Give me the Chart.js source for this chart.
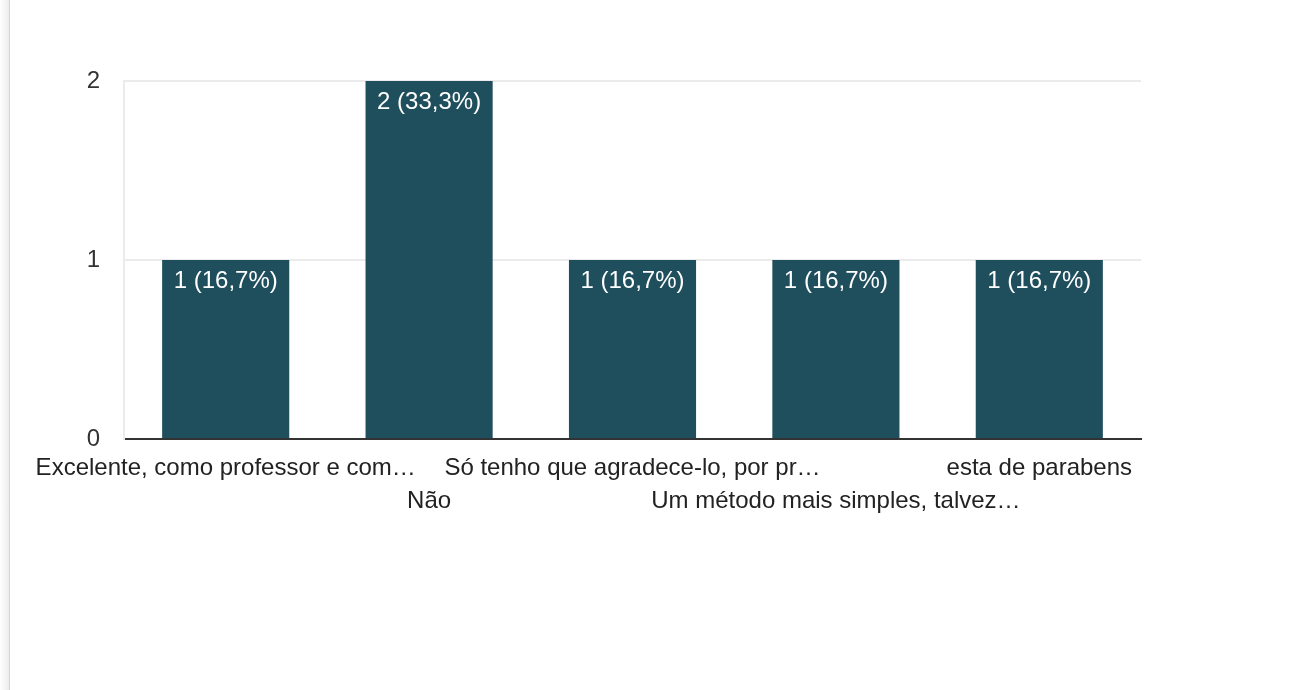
<!DOCTYPE html>
<html>
<head>
<meta charset="utf-8">
<script src="https://cdn.jsdelivr.net/npm/chart.js@4"></script>
<style>
  html, body { margin: 0; padding: 0; background: #fff; }
  #wrap { position: relative; width: 1289px; height: 690px; overflow: hidden; }
  #edge { position: absolute; left: 0; top: 0; width: 9px; height: 690px;
          background: linear-gradient(to right, #fff, #ececec); border-right: 1px solid #d6d6d6; }
  canvas { position: absolute; left: 0; top: 0; }
</style>
</head>
<body>
<div id="wrap">
  <div id="edge"></div>
  <canvas id="chart" width="1289" height="690"></canvas>
</div>
<script>
// Dữ liệu của biểu đồ
const categories = [
  "Excelente, como professor e com…",
  "Não",
  "Só tenho que agradece-lo, por pr…",
  "Um método mais simples, talvez…",
  "esta de parabens"
];
const counts = [1, 2, 1, 1, 1];
const yTicks = [0, 1, 2];

const total = counts.reduce((a, b) => a + b, 0);
const fontFamily = "Arial, 'Liberation Sans', sans-serif";

// Nhãn so le: hàng 1 và hàng 2
const staggered = categories.map((c, i) => i % 2 === 0 ? [c] : ["", c]);

// Plugin vẽ nhãn giá trị trong cột
const barLabels = {
  id: "barLabels",
  afterDatasetsDraw(chart) {
    const ctx = chart.ctx;
    const meta = chart.getDatasetMeta(0);
    ctx.save();
    ctx.fillStyle = "#fff";
    ctx.font = "24px " + fontFamily;
    ctx.textAlign = "center";
    ctx.textBaseline = "top";
    meta.data.forEach((bar, i) => {
      const pct = (counts[i] / total * 100).toFixed(1).replace(".", ",");
      ctx.fillText(`${counts[i]} (${pct}%)`, bar.x, bar.y + 9);
    });
    ctx.restore();
  }
};

const ctx = document.getElementById("chart");
new Chart(ctx, {
  type: "bar",
  data: {
    labels: staggered,
    datasets: [{
      data: counts,
      backgroundColor: "#1f4e5d",
      barPercentage: 0.625,
      categoryPercentage: 1.0
    }]
  },
  options: {
    responsive: false,
    animation: false,
    layout: { padding: { left: 0, right: 148, top: 81, bottom: 0 } },
    plugins: { legend: { display: false }, tooltip: { enabled: false } },
    scales: {
      x: {
        offset: true,
        grid: {
          drawTicks: false,
          lineWidth: 2,
          color: c => (c.index === 0 || c.index === categories.length) ? "#ebebeb" : "rgba(0,0,0,0)"
        },
        border: { display: true, color: "#333", width: 2 },
        ticks: {
          autoSkip: false,
          maxRotation: 0,
          minRotation: 0,
          padding: 13,
          color: "#222",
          font: { size: 24, family: fontFamily, lineHeight: 1.375 }
        },
        afterFit: s => { s.height = 251; }
      },
      y: {
        min: 0,
        max: 2,
        afterBuildTicks: s => { s.ticks = yTicks.map(v => ({ value: v })); },
        grid: {
          drawTicks: false,
          lineWidth: 2,
          color: c => c.tick && c.tick.value === 0 ? "rgba(0,0,0,0)" : "#ebebeb"
        },
        border: { display: true, color: "#ebebeb", width: 2 },
        ticks: {
          padding: 24,
          color: "#333",
          font: { size: 24, family: fontFamily }
        },
        afterFit: s => { s.width = 124; }
      }
    }
  },
  plugins: [barLabels]
});
</script>
</body>
</html>
